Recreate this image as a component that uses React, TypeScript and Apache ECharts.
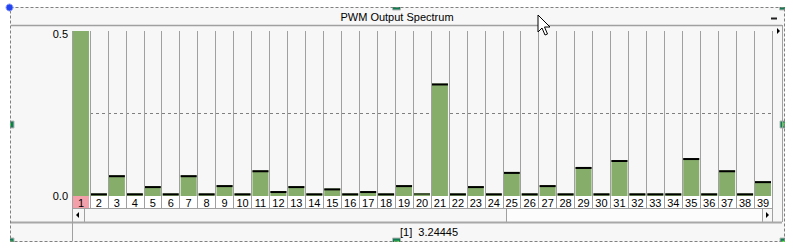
import React, { useEffect, useRef } from "react";
import * as echarts from "echarts";

const categories = ["1","2","3","4","5","6","7","8","9","10","11","12","13","14","15","16","17","18","19","20","21","22","23","24","25","26","27","28","29","30","31","32","33","34","35","36","37","38","39"];
const spectrum = [3.24445, 0.008, 0.063, 0.008, 0.030, 0.008, 0.063, 0.008, 0.033, 0.008, 0.078, 0.015, 0.030, 0.008, 0.023, 0.008, 0.015, 0.008, 0.033, 0.009, 0.341, 0.008, 0.030, 0.008, 0.073, 0.008, 0.033, 0.008, 0.088, 0.008, 0.109, 0.008, 0.008, 0.008, 0.115, 0.008, 0.078, 0.008, 0.045];
const selectedIndex = 0;
const yTicks = [0, 0.25, 0.5];
const title = "PWM Output Spectrum";
const statusText = "[1]  3.24445";

const FONT = "'Liberation Sans', Arial, sans-serif";
const GRAY = "#a0a0a0";

export default function App() {
  const ref = useRef<HTMLDivElement>(null);
  useEffect(() => {
    if (!ref.current) return;
    const chart = echarts.init(ref.current, null, { renderer: "svg" });
    const handle = (cx: number, cy: number, vertical: boolean) => ({
      type: "group",
      z: 200,
      children: [
        { type: "rect", shape: { x: cx - 4, y: cy - 4, width: 8, height: 7 }, style: { fill: "#127a55", stroke: "#b8b8b8", lineWidth: 1 } },
        vertical
          ? { type: "line", shape: { x1: cx, y1: cy - 2.5, x2: cx, y2: cy + 1.5 }, style: { stroke: "#4cff3c", lineWidth: 1.5 } }
          : { type: "line", shape: { x1: cx - 2.5, y1: cy - 0.5, x2: cx + 2.5, y2: cy - 0.5 }, style: { stroke: "#4cff3c", lineWidth: 1.5 } },
      ],
    });
    const option: any = {
      animation: false,
      backgroundColor: "#f7f7f7",
      grid: [
        { left: 72, top: 31, width: 700, height: 165, show: true, backgroundColor: "#f7f7f7", borderWidth: 0, containLabel: false },
        { left: 72, top: 196, width: 700, height: 12, show: true, backgroundColor: "#ffffff", borderWidth: 0, containLabel: false },
      ],
      xAxis: [
        {
          type: "category",
          gridIndex: 0,
          data: categories,
          z: 10,
          axisLine: { show: false },
          axisTick: { show: false },
          axisLabel: { show: true, interval: 0, margin: 1, fontSize: 11, color: "#000", fontFamily: FONT },
          splitLine: { show: true, interval: 0, lineStyle: { color: GRAY, width: 1 } },
        },
        {
          type: "category",
          gridIndex: 1,
          data: categories,
          axisLine: { show: false },
          axisTick: { show: false },
          axisLabel: { show: false },
          splitLine: { show: true, interval: 0, lineStyle: { color: GRAY, width: 1 } },
        },
      ],
      yAxis: [
        {
          type: "value",
          gridIndex: 0,
          min: yTicks[0],
          max: yTicks[yTicks.length - 1],
          interval: yTicks[1] - yTicks[0],
          axisLine: { show: false },
          axisTick: { show: false },
          axisLabel: {
            margin: 4,
            fontSize: 11,
            color: "#000",
            fontFamily: FONT,
            formatter: (v: number) => (v === yTicks[yTicks.length - 1] ? "{t|" + v.toFixed(1) + "}" : v === yTicks[0] ? v.toFixed(1) : ""),
            rich: { t: { padding: [6, 0, 0, 0], fontSize: 11, color: "#000", fontFamily: FONT } },
          },
          splitLine: { show: true, showMinLine: false, showMaxLine: false, lineStyle: { color: "#808080", width: 1, type: [3, 3] } },
        },
        { type: "value", gridIndex: 1, min: 0, max: 1, show: false },
      ],
      series: [
        {
          type: "bar",
          xAxisIndex: 0,
          yAxisIndex: 0,
          data: spectrum,
          barWidth: 16,
          clip: true,
          silent: true,
          itemStyle: { color: "#87ad6b" },
          z: 2,
        },
        {
          type: "scatter",
          xAxisIndex: 0,
          yAxisIndex: 0,
          clip: true,
          silent: true,
          symbol: "rect",
          symbolOffset: [0, 1],
          data: spectrum.map((v, i) => ({ value: v, symbolSize: i === 19 ? [16, 1] : [16, 2] })),
          itemStyle: { color: "#000", opacity: 1 },
          z: 3,
        },
        {
          type: "bar",
          xAxisIndex: 1,
          yAxisIndex: 1,
          data: categories.map((c, i) => (i === selectedIndex ? 1 : null)),
          barWidth: 16,
          silent: true,
          itemStyle: { color: "#f4a0ab" },
          z: 2,
        },
      ],
      graphic: [
        // white outside the dashed frame
        { type: "rect", z: 150, shape: { x: 0, y: 0, width: 793, height: 7 }, style: { fill: "#fff" } },
        { type: "rect", z: 150, shape: { x: 0, y: 242, width: 793, height: 7 }, style: { fill: "#fff" } },
        { type: "rect", z: 150, shape: { x: 0, y: 0, width: 10, height: 249 }, style: { fill: "#fff" } },
        { type: "rect", z: 150, shape: { x: 785, y: 0, width: 8, height: 249 }, style: { fill: "#fff" } },
        // title bar
        { type: "text", z: 50, style: { text: title, x: 397, y: 17, align: "center", verticalAlign: "middle", fontSize: 11, fontFamily: FONT, fill: "#000" } },
        { type: "line", z: 50, shape: { x1: 11, y1: 25.5, x2: 782, y2: 25.5 }, style: { stroke: GRAY, lineWidth: 1.5 } },
        { type: "line", z: 50, shape: { x1: 771, y1: 18.5, x2: 777, y2: 18.5 }, style: { stroke: "#222", lineWidth: 2 } },
        // right border and arrow
        { type: "line", z: 50, shape: { x1: 782.5, y1: 25, x2: 782.5, y2: 222 }, style: { stroke: GRAY, lineWidth: 1 } },
        { type: "polygon", z: 50, shape: { points: [[777, 28], [777, 34], [780, 31]] }, style: { fill: "#000" } },
        // label row bottom and scrollbar
        { type: "line", z: 50, shape: { x1: 72, y1: 208.5, x2: 772, y2: 208.5 }, style: { stroke: GRAY, lineWidth: 1 } },
        { type: "rect", z: 40, shape: { x: 507, y: 209, width: 255, height: 13 }, style: { fill: "#fcfcfc" } },
        { type: "line", z: 50, shape: { x1: 84.5, y1: 208, x2: 84.5, y2: 222 }, style: { stroke: GRAY, lineWidth: 1 } },
        { type: "line", z: 50, shape: { x1: 506.5, y1: 208, x2: 506.5, y2: 222 }, style: { stroke: GRAY, lineWidth: 1 } },
        { type: "line", z: 50, shape: { x1: 762.5, y1: 208, x2: 762.5, y2: 222 }, style: { stroke: GRAY, lineWidth: 1 } },
        { type: "line", z: 50, shape: { x1: 772.5, y1: 208, x2: 772.5, y2: 222 }, style: { stroke: GRAY, lineWidth: 1 } },
        { type: "polygon", z: 50, shape: { points: [[79, 212], [79, 218], [76, 215]] }, style: { fill: "#000" } },
        { type: "polygon", z: 50, shape: { points: [[766, 212], [766, 218], [769, 215]] }, style: { fill: "#000" } },
        // status row
        { type: "line", z: 50, shape: { x1: 11, y1: 222.5, x2: 782, y2: 222.5 }, style: { stroke: "#a8a8a8", lineWidth: 2 } },
        { type: "line", z: 50, shape: { x1: 72.5, y1: 208, x2: 72.5, y2: 241 }, style: { stroke: GRAY, lineWidth: 1 } },
        { type: "text", z: 50, style: { text: statusText, x: 400, y: 232, align: "left", verticalAlign: "middle", fontSize: 11, fontFamily: FONT, fill: "#000" } },
        // dashed frame
        { type: "rect", z: 160, shape: { x: 10.5, y: 7.5, width: 774, height: 234 }, style: { fill: "none", stroke: "#808080", lineWidth: 1, lineDash: [3, 2] } },
        // handles
        { type: "circle", z: 200, shape: { cx: 9.5, cy: 7.5, r: 3.5 }, style: { fill: "#2244ee", stroke: "#8899ff", lineWidth: 1 } },
        handle(396.5, 7, false),
        handle(783.5, 7, false),
        handle(10, 125, true),
        handle(784, 125, true),
        handle(10, 242, false),
        handle(396.5, 242, false),
        handle(784, 242, false),
        // mouse cursor
        {
          type: "polygon",
          z: 220,
          shape: { points: [[538, 15], [538, 32], [542, 28], [545, 35], [547.5, 34], [544.5, 27], [550, 27]] },
          style: { fill: "#fff", stroke: "#000", lineWidth: 1 },
        },
      ],
    };
    chart.setOption(option);
    return () => chart.dispose();
  }, []);
  return <div ref={ref} style={{ position: "absolute", left: 0, top: 0, width: 793, height: 249 }} />;
}
